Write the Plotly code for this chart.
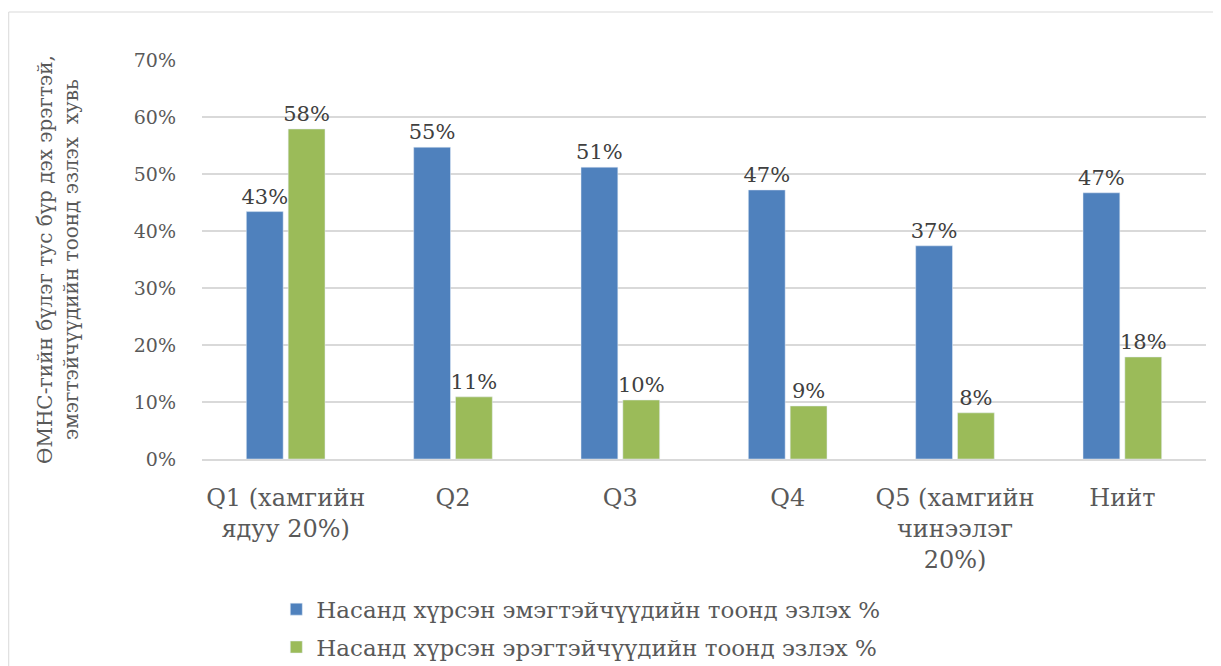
import plotly.graph_objects as go

categories = ["Q1 (хамгийн<br>ядуу 20%)", "Q2", "Q3", "Q4", "Q5 (хамгийн<br>чинээлэг<br>20%)", "Нийт"]
women = [0.434, 0.547, 0.512, 0.472, 0.374, 0.467]
men = [0.579, 0.109, 0.1035, 0.093, 0.081, 0.179]
series_names = ["Насанд хүрсэн эмэгтэйчүүдийн тоонд эзлэх %",
                "Насанд хүрсэн эрэгтэйчүүдийн тоонд эзлэх %"]
y_title = "ӨМНС-гийн бүлэг тус бүр дэх эрэгтэй,<br>эмэгтэйчүүдийн тоонд эзлэх  хувь"

FONT = "DejaVu Serif"
LBL = dict(size=21, color="#404040", family=FONT)

fig = go.Figure()
fig.add_trace(go.Bar(x=categories, y=women, name=series_names[0], marker_color="#4F81BD",
                     texttemplate="%{y:.0%}", textposition="outside", cliponaxis=False,
                     constraintext="none", textfont=LBL, legendgroup="a"))
fig.add_trace(go.Bar(x=categories, y=men, name=series_names[1], marker_color="#9BBB59",
                     texttemplate="%{y:.0%}", textposition="outside", cliponaxis=False,
                     constraintext="none", textfont=LBL, legendgroup="b"))

fig.update_layout(
    width=1213, height=658,
    margin=dict(l=194, r=15, t=52, b=207, autoexpand=False),
    paper_bgcolor="white", plot_bgcolor="white",
    font=dict(family=FONT, color="#595959", size=21),
    barmode="group", bargap=0.5, bargroupgap=0.12,
    showlegend=True,
    legend=dict(x=0.074, y=-0.3225, xanchor="left", yanchor="top", orientation="v",
                font=dict(size=23, color="#595959"), tracegroupgap=5, itemwidth=30),
    xaxis=dict(showgrid=False, showline=True, linecolor="#d9d9d9", linewidth=1.5,
               ticks="", tickfont=dict(size=24), ticklabelstandoff=16, automargin=False),
    yaxis=dict(range=[0, 0.70], dtick=0.10, tickformat=".0%", showgrid=True,
               gridcolor="#d9d9d9", gridwidth=1.5, zeroline=False, showline=False,
               ticks="", ticklabelstandoff=25, tickfont=dict(size=19), automargin=False,
               title=dict(text=y_title, font=dict(size=20, color="#595959"), standoff=49)),
    shapes=[dict(type="rect", xref="paper", yref="paper", x0=-0.1925, x1=1.009,
                 y0=-0.55, y1=1.1203, line=dict(color="#d9d9d9", width=1), layer="below")],
)

fig.write_html("out.html")
